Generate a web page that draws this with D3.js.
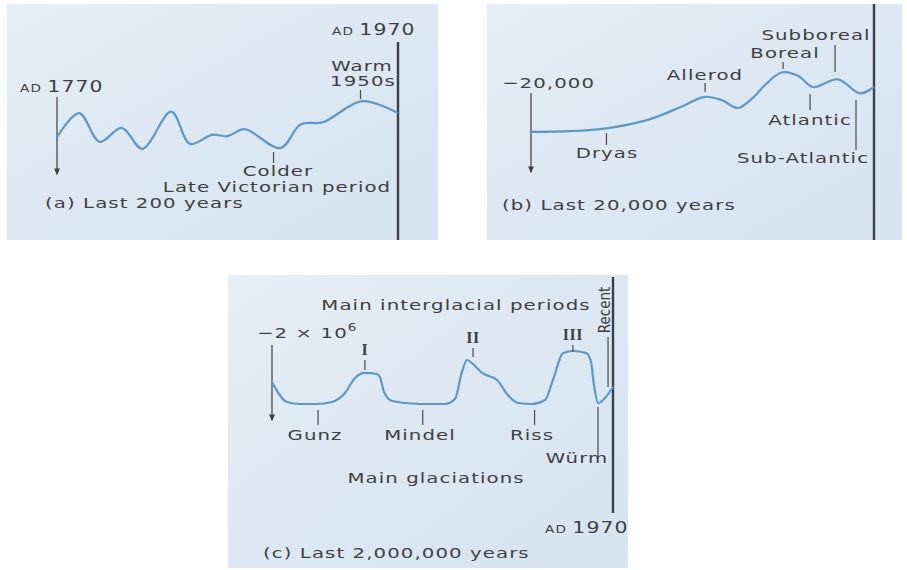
<!DOCTYPE html>
<html>
<head>
<meta charset="utf-8">
<script src="https://cdn.jsdelivr.net/npm/d3@7/dist/d3.min.js"></script>
<style>
  html, body { margin: 0; padding: 0; background: #ffffff; }
  svg { display: block; }
  .lbl { font-family: "DejaVu Sans", "Noto Sans", sans-serif; font-size: 14.5px; fill: #3f3f42; letter-spacing: 0.8px; }
  .roman { font-family: "Liberation Serif", "DejaVu Serif", serif; font-size: 16px; fill: #3f3f42; font-weight: bold; letter-spacing: 0.5px; }
  .narrow { font-family: "Liberation Sans Narrow", "DejaVu Sans Condensed", sans-serif; font-size: 15px; fill: #3f3f42; }
</style>
</head>
<body>
<script>
// ---------------- DATA ----------------
// (a) Last 200 years: year, relative temperature index
const yearsA = [1770, 1783, 1795, 1808, 1820, 1837, 1848, 1861, 1870, 1880, 1901, 1913, 1926, 1949, 1970];
const tempA  = [3.3, 6.7, 2.6, 4.6, 1.6, 6.9, 2.3, 3.6, 3.4, 4.4, 1.7, 5.1, 5.4, 8.4, 6.7];

// (b) Last 20,000 years: years before present, relative temperature index
const yearsB = [-20000, -17700, -15600, -13200, -11300, -9850, -8860, -7930, -7000, -6470, -5360, -4430, -3560, -2100, -820, 0];
const tempB  = [2.6, 2.7, 3.1, 4.3, 6.1, 7.6, 7.1, 6.0, 7.6, 9.0, 11.1, 10.6, 9.0, 10.1, 8.1, 9.0];

// (c) Last 2,000,000 years: years before present, relative temperature index
const yearsC = [-2000000, -1912000, -1836000, -1736000, -1648000, -1572000, -1513000, -1455000, -1384000, -1367000, -1343000, -1296000,
                -1132000, -985000, -927000, -886000, -856000, -821000, -768000, -680000, -622000, -557000, -475000, -399000,
                -352000, -293000, -235000, -158000, -129000, -111500, -88000, -64500, 0];
const tempC  = [4.0, 1.14, 0.86, 0.86, 1.14, 2.43, 4.57, 5.29, 5.14, 4.71, 2.57, 1.29,
                0.86, 0.86, 1.57, 5.43, 7.14, 6.57, 5.29, 4.29, 2.29, 1.0, 0.86, 1.43,
                4.29, 8.14, 8.43, 8.14, 6.86, 3.57, 1.0, 1.29, 3.29];

// Annotation labels (name, year)
const labelsA = [["Warm 1950s", 1948], ["Colder Late Victorian period", 1897]];
const labelsB = [["Dryas", -15600], ["Allerod", -9850], ["Boreal", -5300], ["Subboreal", -2270], ["Atlantic", -3730], ["Sub-Atlantic", -1050]];
const labelsC = [["I", -1455000], ["II", -821000], ["III", -235000], ["Gunz", -1730000], ["Mindel", -1116000], ["Riss", -460000], ["Würm", -88000], ["Recent", -29000]];

// ---------------- CHART ----------------
const W = 907, H = 570;
const STRETCH = 1.36; // wide geometric face of the original
const svg = d3.select("body").append("svg").attr("width", W).attr("height", H);

const defs = svg.append("defs");
const grad = defs.append("linearGradient").attr("id", "paper").attr("x1", "0").attr("y1", "0").attr("x2", "1").attr("y2", "1");
grad.append("stop").attr("offset", "0%").attr("stop-color", "#e6eef6");
grad.append("stop").attr("offset", "45%").attr("stop-color", "#dde8f2");
grad.append("stop").attr("offset", "100%").attr("stop-color", "#d6e4f0");
const mk = defs.append("marker").attr("id", "arrow").attr("viewBox", "0 0 10 10").attr("refX", 5).attr("refY", 5)
  .attr("markerWidth", 6).attr("markerHeight", 6).attr("orient", "auto");
mk.append("path").attr("d", "M0,1 L10,5 L0,9 Z").attr("fill", "#3f3f42");

// panels backgrounds
const panels = [[7, 4, 431, 236], [487, 4, 415, 236], [228, 275, 400, 293]];
svg.selectAll("rect.bg").data(panels).join("rect").attr("class", "bg")
  .attr("x", d => d[0]).attr("y", d => d[1]).attr("width", d => d[2]).attr("height", d => d[3])
  .attr("fill", "url(#paper)");

const curveColor = "#5d98c8";
const axisColor = "#3b3f47";

function tick(g, x, y1, y2) {
  g.append("line").attr("x1", x).attr("x2", x).attr("y1", y1).attr("y2", y2)
    .attr("stroke", "#4a4a4e").attr("stroke-width", 1.2);
}
function text(g, str, x, y, anchor, cls) {
  const stretch = (cls && cls !== "lbl") ? 1 : STRETCH;
  return g.append("text").attr("class", cls || "lbl")
    .attr("transform", `translate(${x},${y}) scale(${stretch},1)`)
    .attr("text-anchor", anchor || "start").text(str);
}
function adText(g, num, x, y, anchor) {
  const t = g.append("text").attr("class", "lbl")
    .attr("transform", `translate(${x},${y}) scale(${STRETCH},1)`)
    .attr("text-anchor", anchor || "start");
  t.append("tspan").attr("font-size", "10px").text("AD ");
  t.append("tspan").attr("font-size", "15px").text(num);
  return t;
}
function arrow(g, x, y1, y2) {
  g.append("line").attr("x1", x).attr("x2", x).attr("y1", y1).attr("y2", y2)
    .attr("stroke", "#3f3f42").attr("stroke-width", 1.2).attr("marker-end", "url(#arrow)");
}
function vline(g, x, y1, y2) {
  g.append("line").attr("x1", x).attr("x2", x).attr("y1", y1).attr("y2", y2)
    .attr("stroke", axisColor).attr("stroke-width", 2.4);
}

// ---- Panel (a)
{
  const g = svg.append("g");
  const x = d3.scaleLinear().domain([1770, 1970]).range([57, 398]);
  const y = d3.scaleLinear().domain([0, 10]).range([160, 90]);
  const pts = yearsA.map((d, i) => [d, tempA[i]]);
  vline(g, x(1970), 42, 240);
  arrow(g, x(1770), 97, 172);
  g.append("path").datum(pts)
    .attr("d", d3.line().x(d => x(d[0])).y(d => y(d[1])).curve(d3.curveCatmullRom.alpha(0.5)))
    .attr("fill", "none").attr("stroke", curveColor).attr("stroke-width", 2.2);
  adText(g, "1770", 20, 92);
  adText(g, "1970", 332, 35);
  const warm = labelsA[0], cold = labelsA[1];
  tick(g, x(warm[1]), 90, 99);
  text(g, "Warm", 362, 71, "middle");
  text(g, "1950s", 363, 86, "middle");
  tick(g, x(cold[1]), 152, 163);
  text(g, "Colder", 278, 176, "middle");
  text(g, "Late Victorian period", 277, 192, "middle");
  text(g, "(a) Last 200 years", 45, 208);
}

// ---- Panel (b)
{
  const g = svg.append("g");
  const x = d3.scaleLinear().domain([-20000, 0]).range([531, 874]);
  const y = d3.scaleLinear().domain([0, 10]).range([150, 80]);
  const pts = yearsB.map((d, i) => [d, tempB[i]]);
  vline(g, x(0), 4, 240);
  arrow(g, x(-20000), 93, 170);
  g.append("path").datum(pts)
    .attr("d", d3.line().x(d => x(d[0])).y(d => y(d[1])).curve(d3.curveCatmullRom.alpha(0.5)))
    .attr("fill", "none").attr("stroke", curveColor).attr("stroke-width", 2.2);
  text(g, "\u221220,000", 502, 88);
  const L = Object.fromEntries(labelsB.map(d => [d[0], d[1]]));
  tick(g, x(L["Dryas"]), 133, 145);     text(g, "Dryas", 607, 158, "middle");
  tick(g, x(L["Allerod"]), 83, 92);     text(g, "Allerod", 705, 80, "middle");
  tick(g, x(L["Boreal"]), 62, 69);      text(g, "Boreal", 785, 58, "middle");
  tick(g, x(L["Subboreal"]), 45, 72);   text(g, "Subboreal", 816, 40, "middle");
  tick(g, x(L["Atlantic"]), 94, 110);   text(g, "Atlantic", 810, 125, "middle");
  tick(g, x(L["Sub-Atlantic"]), 100, 150); text(g, "Sub-Atlantic", 803, 163, "middle");
  text(g, "(b) Last 20,000 years", 502, 210);
}

// ---- Panel (c)
{
  const g = svg.append("g");
  const x = d3.scaleLinear().domain([-2000000, 0]).range([272, 613]);
  const y = d3.scaleLinear().domain([0, 10]).range([410, 340]);
  const pts = yearsC.map((d, i) => [d, tempC[i]]);
  vline(g, x(0), 277, 513);
  arrow(g, x(-2000000), 345, 418);
  g.append("path").datum(pts)
    .attr("d", d3.line().x(d => x(d[0])).y(d => y(d[1])).curve(d3.curveMonotoneX))
    .attr("fill", "none").attr("stroke", curveColor).attr("stroke-width", 2.2);
  text(g, "Main interglacial periods", 456, 310, "middle");
  const t = g.append("text").attr("class", "lbl").attr("transform", `translate(257,338) scale(${STRETCH},1)`);
  t.append("tspan").text("\u22122 \u00d7 10");
  t.append("tspan").attr("font-size", "10px").attr("dy", -7).text("6");
  const L = Object.fromEntries(labelsC.map(d => [d[0], d[1]]));
  tick(g, x(L["I"]), 360, 370);   text(g, "I", x(L["I"]), 355, "middle", "roman");
  tick(g, x(L["II"]), 348, 357);  text(g, "II", x(L["II"]), 343, "middle", "roman");
  tick(g, x(L["III"]), 345, 352); text(g, "III", x(L["III"]), 340, "middle", "roman");
  tick(g, x(L["Gunz"]), 410, 425);   text(g, "Gunz", 315, 440, "middle");
  tick(g, x(L["Mindel"]), 410, 425); text(g, "Mindel", 420, 440, "middle");
  tick(g, x(L["Riss"]), 410, 425);   text(g, "Riss", 532, 440, "middle");
  tick(g, x(L["Würm"]), 407, 458);   text(g, "Würm", 577, 463, "middle");
  tick(g, x(L["Recent"]), 337, 387);
  g.append("text").attr("class", "narrow").attr("transform", "translate(610,310) rotate(-90)")
    .attr("text-anchor", "middle").text("Recent");
  text(g, "Main glaciations", 436, 483, "middle");
  adText(g, "1970", 545, 533);
  text(g, "(c) Last 2,000,000 years", 263, 558);
}
</script>
</body>
</html>
